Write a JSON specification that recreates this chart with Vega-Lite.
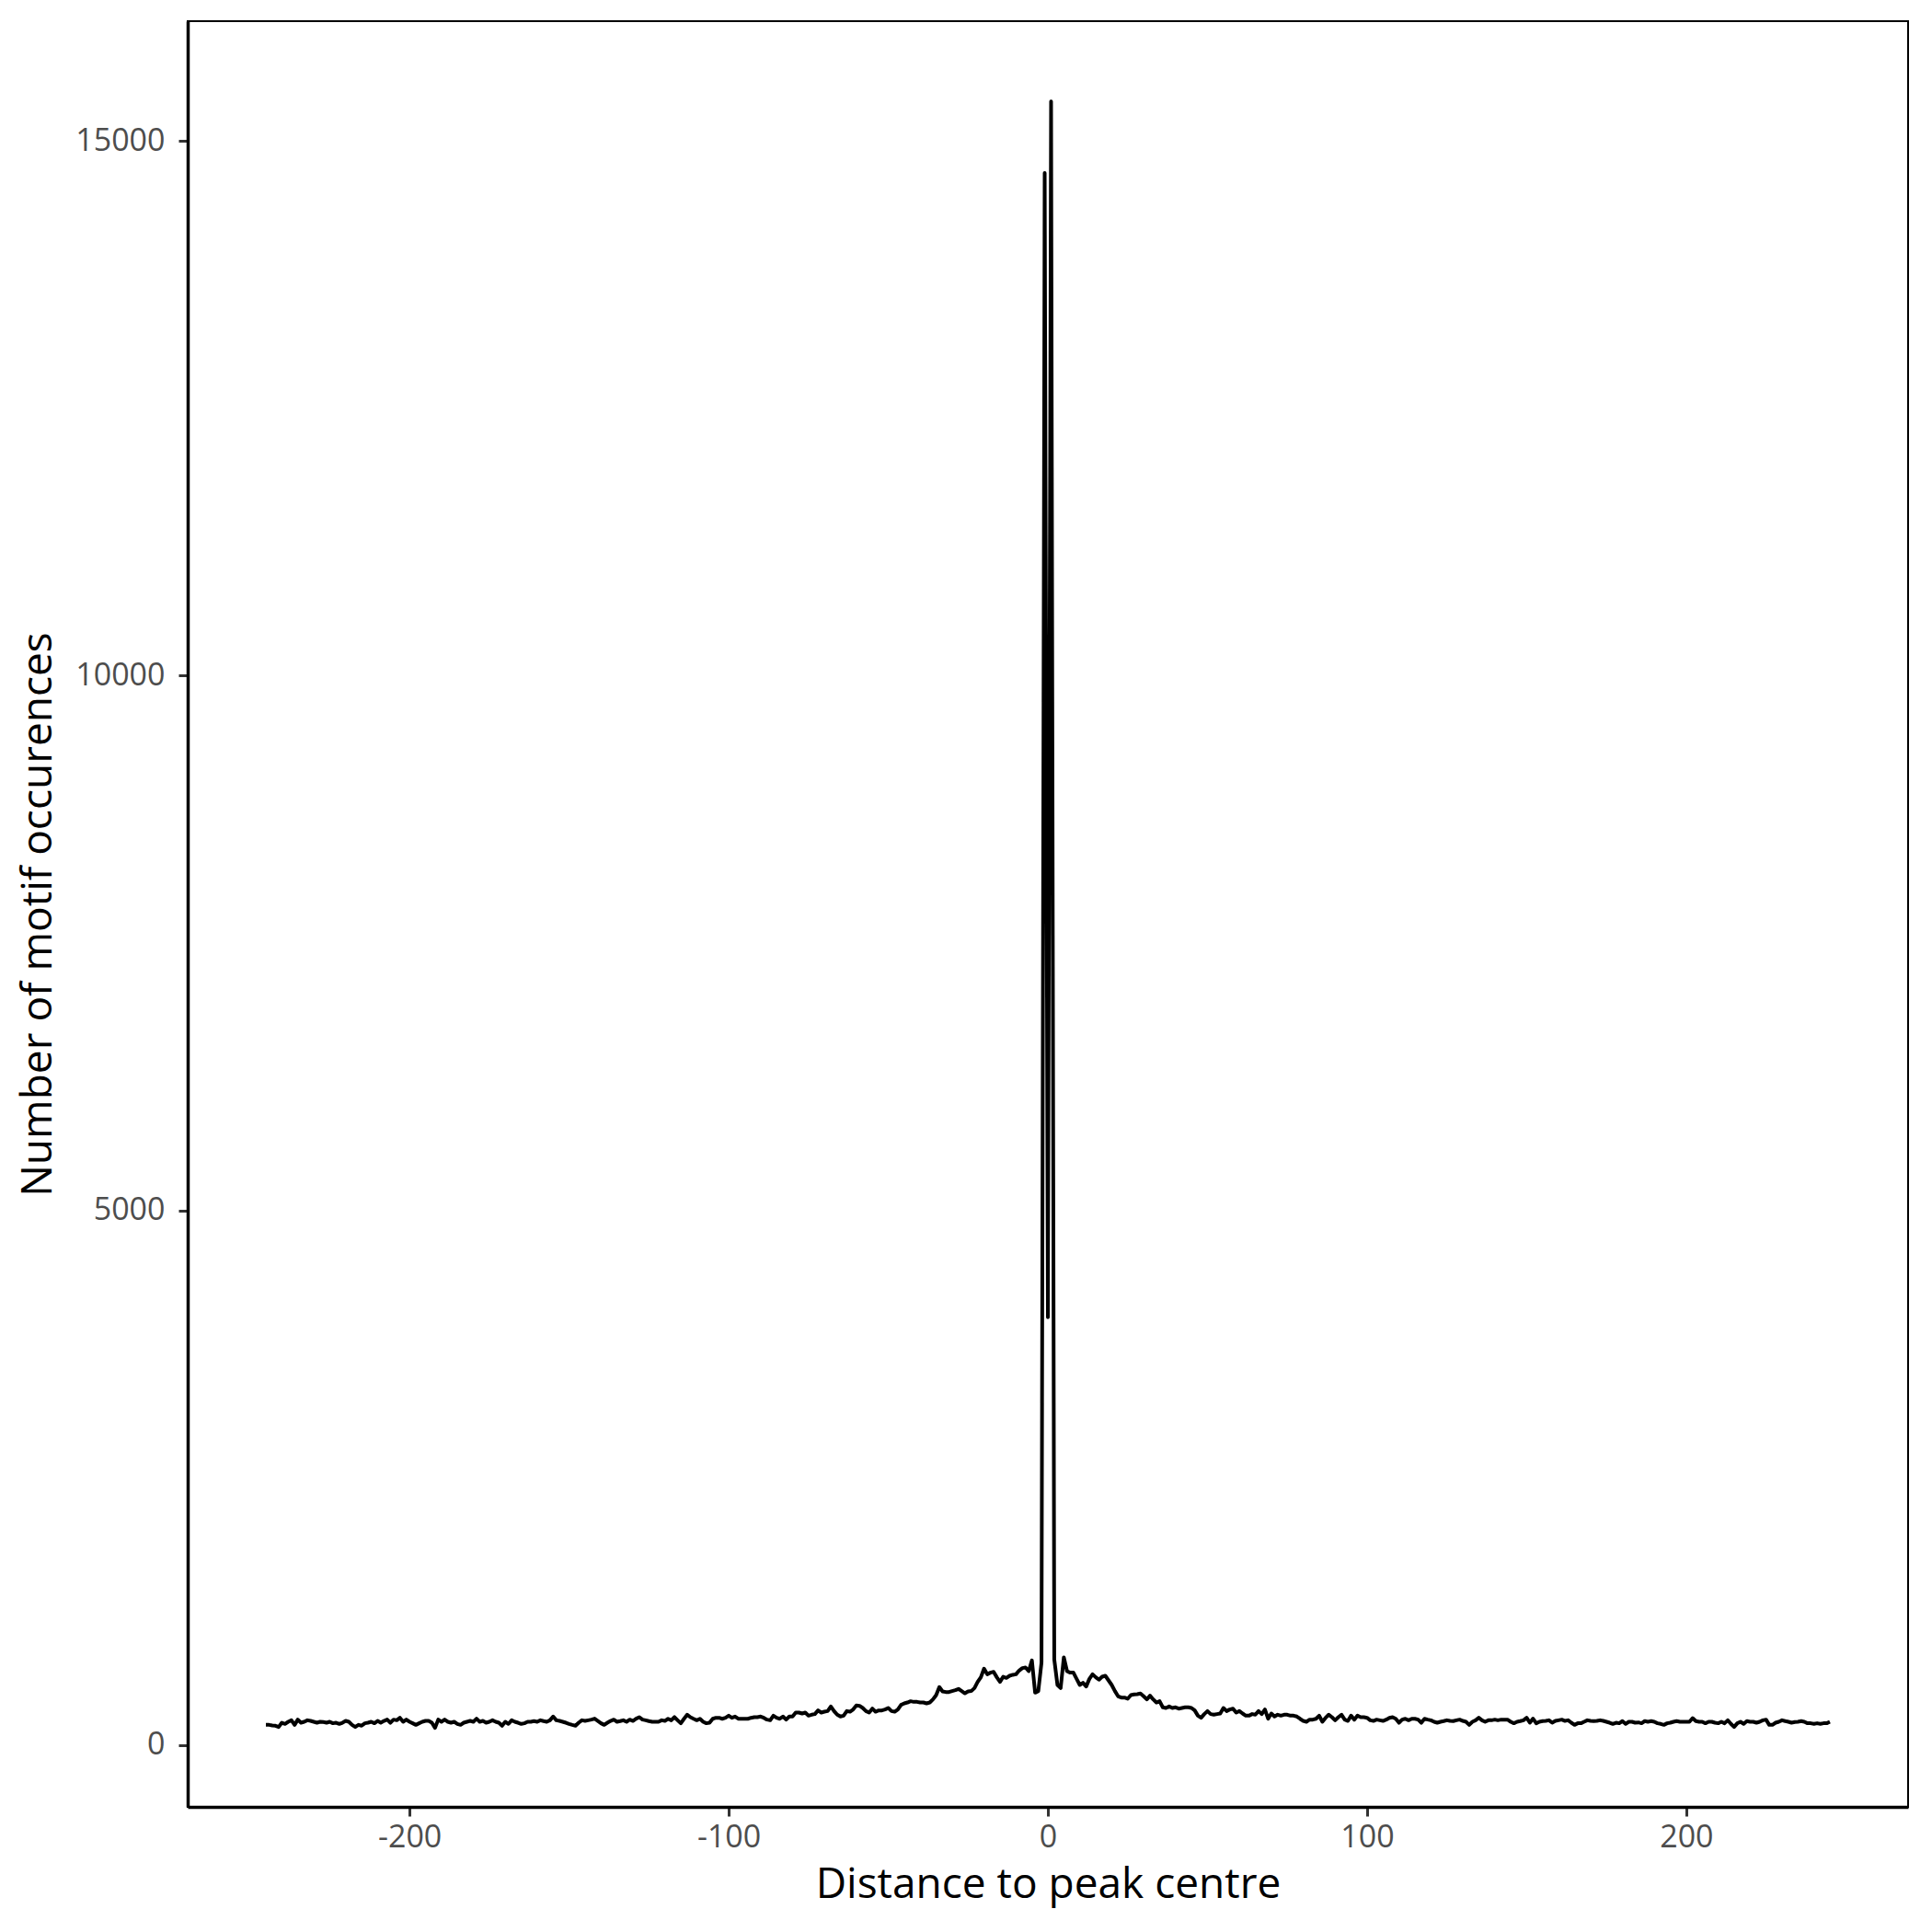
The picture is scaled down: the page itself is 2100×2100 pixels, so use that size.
{
  "$schema": "https://vega.github.io/schema/vega-lite/v6.json",
  "autosize": "none",
  "width": 1870,
  "height": 1941,
  "padding": {"left": 204, "top": 23, "right": 26, "bottom": 136},
  "background": "white",
  "config": {
    "view": {"stroke": "black", "strokeWidth": 2},
    "axis": {
      "grid": false,
      "domainColor": "black",
      "domainWidth": 3.5,
      "tickColor": "#333333",
      "tickWidth": 3,
      "tickSize": 10,
      "labelFont": "Open Sans",
      "labelFontSize": 34,
      "labelColor": "#4D4D4D",
      "labelPadding": 8,
      "titleFont": "Open Sans",
      "titleFontSize": 46,
      "titleFontWeight": "normal",
      "titleColor": "black"
    }
  },
  "data": {
    "values": [
      {"d":-245,"n":189},{"d":-244,"n":189},{"d":-243,"n":183},{"d":-242,"n":181},{"d":-241,"n":169},{"d":-240,"n":209},{"d":-239,"n":198},{"d":-238,"n":218},{"d":-237,"n":232},{"d":-236,"n":189},
      {"d":-235,"n":238},{"d":-234,"n":209},{"d":-233,"n":218},{"d":-232,"n":232},{"d":-231,"n":226},{"d":-230,"n":218},{"d":-229,"n":209},{"d":-228,"n":218},{"d":-227,"n":215},{"d":-226,"n":209},
      {"d":-225,"n":218},{"d":-224,"n":204},{"d":-223,"n":209},{"d":-222,"n":198},{"d":-221,"n":209},{"d":-220,"n":226},{"d":-219,"n":218},{"d":-218,"n":189},{"d":-217,"n":169},{"d":-216,"n":189},
      {"d":-215,"n":181},{"d":-214,"n":204},{"d":-213,"n":209},{"d":-212,"n":218},{"d":-211,"n":204},{"d":-210,"n":226},{"d":-209,"n":209},{"d":-208,"n":226},{"d":-207,"n":238},{"d":-206,"n":209},
      {"d":-205,"n":238},{"d":-204,"n":232},{"d":-203,"n":255},{"d":-202,"n":218},{"d":-201,"n":238},{"d":-200,"n":218},{"d":-199,"n":204},{"d":-198,"n":189},{"d":-197,"n":204},{"d":-196,"n":218},
      {"d":-195,"n":226},{"d":-194,"n":226},{"d":-193,"n":209},{"d":-192,"n":161},{"d":-191,"n":238},{"d":-190,"n":218},{"d":-189,"n":238},{"d":-188,"n":218},{"d":-187,"n":209},{"d":-186,"n":218},
      {"d":-185,"n":198},{"d":-184,"n":189},{"d":-183,"n":209},{"d":-182,"n":218},{"d":-181,"n":226},{"d":-180,"n":218},{"d":-179,"n":247},{"d":-178,"n":218},{"d":-177,"n":226},{"d":-176,"n":209},
      {"d":-175,"n":218},{"d":-174,"n":232},{"d":-173,"n":218},{"d":-172,"n":209},{"d":-171,"n":181},{"d":-170,"n":218},{"d":-169,"n":198},{"d":-168,"n":232},{"d":-167,"n":218},{"d":-166,"n":209},
      {"d":-165,"n":198},{"d":-164,"n":204},{"d":-163,"n":218},{"d":-162,"n":218},{"d":-161,"n":224},{"d":-160,"n":218},{"d":-159,"n":232},{"d":-158,"n":224},{"d":-157,"n":218},{"d":-156,"n":232},
      {"d":-155,"n":267},{"d":-154,"n":232},{"d":-153,"n":226},{"d":-152,"n":218},{"d":-151,"n":209},{"d":-150,"n":198},{"d":-149,"n":189},{"d":-148,"n":181},{"d":-147,"n":209},{"d":-146,"n":232},
      {"d":-145,"n":226},{"d":-144,"n":232},{"d":-143,"n":238},{"d":-142,"n":247},{"d":-141,"n":226},{"d":-140,"n":204},{"d":-139,"n":189},{"d":-138,"n":209},{"d":-137,"n":226},{"d":-136,"n":238},
      {"d":-135,"n":218},{"d":-134,"n":224},{"d":-133,"n":232},{"d":-132,"n":218},{"d":-131,"n":238},{"d":-130,"n":226},{"d":-129,"n":247},{"d":-128,"n":261},{"d":-127,"n":238},{"d":-126,"n":232},
      {"d":-125,"n":224},{"d":-124,"n":218},{"d":-123,"n":218},{"d":-122,"n":218},{"d":-121,"n":232},{"d":-120,"n":226},{"d":-119,"n":246},{"d":-118,"n":232},{"d":-117,"n":261},{"d":-116,"n":232},
      {"d":-115,"n":204},{"d":-114,"n":246},{"d":-113,"n":284},{"d":-112,"n":261},{"d":-111,"n":246},{"d":-110,"n":232},{"d":-109,"n":246},{"d":-108,"n":218},{"d":-107,"n":204},{"d":-106,"n":209},
      {"d":-105,"n":246},{"d":-104,"n":255},{"d":-103,"n":255},{"d":-102,"n":246},{"d":-101,"n":255},{"d":-100,"n":275},{"d":-99,"n":255},{"d":-98,"n":267},{"d":-97,"n":246},{"d":-96,"n":246},
      {"d":-95,"n":246},{"d":-94,"n":246},{"d":-93,"n":255},{"d":-92,"n":261},{"d":-91,"n":261},{"d":-90,"n":267},{"d":-89,"n":255},{"d":-88,"n":238},{"d":-87,"n":232},{"d":-86,"n":275},
      {"d":-85,"n":255},{"d":-84,"n":246},{"d":-83,"n":267},{"d":-82,"n":238},{"d":-81,"n":267},{"d":-80,"n":267},{"d":-79,"n":304},{"d":-78,"n":304},{"d":-77,"n":295},{"d":-76,"n":304},
      {"d":-75,"n":275},{"d":-74,"n":284},{"d":-73,"n":290},{"d":-72,"n":324},{"d":-71,"n":304},{"d":-70,"n":312},{"d":-69,"n":318},{"d":-68,"n":361},{"d":-67,"n":318},{"d":-66,"n":284},
      {"d":-65,"n":267},{"d":-64,"n":275},{"d":-63,"n":318},{"d":-62,"n":312},{"d":-61,"n":333},{"d":-60,"n":370},{"d":-59,"n":367},{"d":-58,"n":347},{"d":-57,"n":318},{"d":-56,"n":304},
      {"d":-55,"n":341},{"d":-54,"n":312},{"d":-53,"n":324},{"d":-52,"n":324},{"d":-51,"n":333},{"d":-50,"n":347},{"d":-49,"n":318},{"d":-48,"n":312},{"d":-47,"n":333},{"d":-46,"n":376},
      {"d":-45,"n":390},{"d":-44,"n":398},{"d":-43,"n":410},{"d":-42,"n":404},{"d":-41,"n":404},{"d":-40,"n":398},{"d":-39,"n":398},{"d":-38,"n":390},{"d":-37,"n":398},{"d":-36,"n":427},
      {"d":-35,"n":467},{"d":-34,"n":542},{"d":-33,"n":502},{"d":-32,"n":496},{"d":-31,"n":496},{"d":-30,"n":505},{"d":-29,"n":513},{"d":-28,"n":525},{"d":-27,"n":505},{"d":-26,"n":484},
      {"d":-25,"n":502},{"d":-24,"n":505},{"d":-23,"n":533},{"d":-22,"n":591},{"d":-21,"n":634},{"d":-20,"n":714},{"d":-19,"n":662},{"d":-18,"n":677},{"d":-17,"n":685},{"d":-16,"n":634},
      {"d":-15,"n":591},{"d":-14,"n":639},{"d":-13,"n":628},{"d":-12,"n":648},{"d":-11,"n":657},{"d":-10,"n":662},{"d":-9,"n":697},{"d":-8,"n":720},{"d":-7,"n":725},{"d":-6,"n":691},
      {"d":-5,"n":791},{"d":-4,"n":490},{"d":-3,"n":505},{"d":-2,"n":770},{"d":-1,"n":14700},{"d":0,"n":4000},{"d":1,"n":15370},{"d":2,"n":800},{"d":3,"n":562},{"d":4,"n":533},
      {"d":5,"n":820},{"d":6,"n":691},{"d":7,"n":677},{"d":8,"n":677},{"d":9,"n":619},{"d":10,"n":562},{"d":11,"n":582},{"d":12,"n":548},{"d":13,"n":619},{"d":14,"n":662},
      {"d":15,"n":634},{"d":16,"n":611},{"d":17,"n":639},{"d":18,"n":648},{"d":19,"n":605},{"d":20,"n":562},{"d":21,"n":505},{"d":22,"n":456},{"d":23,"n":444},{"d":24,"n":444},
      {"d":25,"n":433},{"d":26,"n":467},{"d":27,"n":473},{"d":28,"n":476},{"d":29,"n":482},{"d":30,"n":456},{"d":31,"n":427},{"d":32,"n":462},{"d":33,"n":427},{"d":34,"n":398},
      {"d":35,"n":410},{"d":36,"n":353},{"d":37,"n":347},{"d":38,"n":361},{"d":39,"n":347},{"d":40,"n":353},{"d":41,"n":341},{"d":42,"n":347},{"d":43,"n":353},{"d":44,"n":353},
      {"d":45,"n":347},{"d":46,"n":324},{"d":47,"n":275},{"d":48,"n":255},{"d":49,"n":290},{"d":50,"n":318},{"d":51,"n":290},{"d":52,"n":284},{"d":53,"n":290},{"d":54,"n":295},
      {"d":55,"n":347},{"d":56,"n":318},{"d":57,"n":333},{"d":58,"n":341},{"d":59,"n":304},{"d":60,"n":318},{"d":61,"n":295},{"d":62,"n":275},{"d":63,"n":275},{"d":64,"n":290},
      {"d":65,"n":284},{"d":66,"n":318},{"d":67,"n":290},{"d":68,"n":333},{"d":69,"n":246},{"d":70,"n":295},{"d":71,"n":267},{"d":72,"n":284},{"d":73,"n":275},{"d":74,"n":284},
      {"d":75,"n":284},{"d":76,"n":275},{"d":77,"n":275},{"d":78,"n":267},{"d":79,"n":246},{"d":80,"n":226},{"d":81,"n":218},{"d":82,"n":238},{"d":83,"n":238},{"d":84,"n":246},
      {"d":85,"n":275},{"d":86,"n":218},{"d":87,"n":255},{"d":88,"n":284},{"d":89,"n":261},{"d":90,"n":232},{"d":91,"n":261},{"d":92,"n":284},{"d":93,"n":238},{"d":94,"n":226},
      {"d":95,"n":275},{"d":96,"n":238},{"d":97,"n":275},{"d":98,"n":261},{"d":99,"n":261},{"d":100,"n":255},{"d":101,"n":232},{"d":102,"n":226},{"d":103,"n":238},{"d":104,"n":232},
      {"d":105,"n":226},{"d":106,"n":238},{"d":107,"n":255},{"d":108,"n":261},{"d":109,"n":246},{"d":110,"n":209},{"d":111,"n":238},{"d":112,"n":246},{"d":113,"n":232},{"d":114,"n":246},
      {"d":115,"n":246},{"d":116,"n":238},{"d":117,"n":209},{"d":118,"n":246},{"d":119,"n":238},{"d":120,"n":232},{"d":121,"n":218},{"d":122,"n":209},{"d":123,"n":218},{"d":124,"n":224},
      {"d":125,"n":232},{"d":126,"n":226},{"d":127,"n":224},{"d":128,"n":232},{"d":129,"n":238},{"d":130,"n":226},{"d":131,"n":218},{"d":132,"n":189},{"d":133,"n":218},{"d":134,"n":232},
      {"d":135,"n":255},{"d":136,"n":232},{"d":137,"n":218},{"d":138,"n":232},{"d":139,"n":232},{"d":140,"n":238},{"d":141,"n":232},{"d":142,"n":238},{"d":143,"n":238},{"d":144,"n":238},
      {"d":145,"n":218},{"d":146,"n":204},{"d":147,"n":218},{"d":148,"n":224},{"d":149,"n":232},{"d":150,"n":255},{"d":151,"n":209},{"d":152,"n":247},{"d":153,"n":204},{"d":154,"n":218},
      {"d":155,"n":224},{"d":156,"n":226},{"d":157,"n":232},{"d":158,"n":209},{"d":159,"n":226},{"d":160,"n":232},{"d":161,"n":238},{"d":162,"n":226},{"d":163,"n":232},{"d":164,"n":209},
      {"d":165,"n":189},{"d":166,"n":204},{"d":167,"n":204},{"d":168,"n":218},{"d":169,"n":232},{"d":170,"n":226},{"d":171,"n":224},{"d":172,"n":226},{"d":173,"n":232},{"d":174,"n":226},
      {"d":175,"n":218},{"d":176,"n":209},{"d":177,"n":198},{"d":178,"n":209},{"d":179,"n":204},{"d":180,"n":224},{"d":181,"n":198},{"d":182,"n":218},{"d":183,"n":218},{"d":184,"n":209},
      {"d":185,"n":212},{"d":186,"n":204},{"d":187,"n":224},{"d":188,"n":218},{"d":189,"n":224},{"d":190,"n":218},{"d":191,"n":204},{"d":192,"n":198},{"d":193,"n":189},{"d":194,"n":204},
      {"d":195,"n":209},{"d":196,"n":218},{"d":197,"n":224},{"d":198,"n":218},{"d":199,"n":218},{"d":200,"n":218},{"d":201,"n":218},{"d":202,"n":252},{"d":203,"n":224},{"d":204,"n":218},
      {"d":205,"n":218},{"d":206,"n":204},{"d":207,"n":218},{"d":208,"n":218},{"d":209,"n":209},{"d":210,"n":204},{"d":211,"n":218},{"d":212,"n":204},{"d":213,"n":232},{"d":214,"n":198},
      {"d":215,"n":169},{"d":216,"n":204},{"d":217,"n":218},{"d":218,"n":198},{"d":219,"n":224},{"d":220,"n":218},{"d":221,"n":218},{"d":222,"n":209},{"d":223,"n":218},{"d":224,"n":232},
      {"d":225,"n":238},{"d":226,"n":189},{"d":227,"n":189},{"d":228,"n":209},{"d":229,"n":218},{"d":230,"n":232},{"d":231,"n":224},{"d":232,"n":218},{"d":233,"n":209},{"d":234,"n":215},
      {"d":235,"n":218},{"d":236,"n":224},{"d":237,"n":218},{"d":238,"n":204},{"d":239,"n":204},{"d":240,"n":198},{"d":241,"n":204},{"d":242,"n":198},{"d":243,"n":204},{"d":244,"n":204},
      {"d":245,"n":218}
    ]
  },
  "mark": {"type": "line", "color": "black", "strokeWidth": 4, "strokeJoin": "round", "clip": true},
  "encoding": {
    "x": {
      "field": "d",
      "type": "quantitative",
      "title": "Distance to peak centre",
      "scale": {"domain": [-269.5, 269.5], "nice": false, "zero": false},
      "axis": {"values": [-200, -100, 0, 100, 200], "labelExpr": "toString(datum.value)", "titlePadding": 12, "labelPadding": 6}
    },
    "y": {
      "field": "n",
      "type": "quantitative",
      "title": "Number of motif occurences",
      "scale": {"domain": [-578, 16120], "nice": false, "zero": false},
      "axis": {"values": [0, 5000, 10000, 15000], "labelExpr": "toString(datum.value)", "titlePadding": 16, "labelPadding": 15}
    }
  }
}
